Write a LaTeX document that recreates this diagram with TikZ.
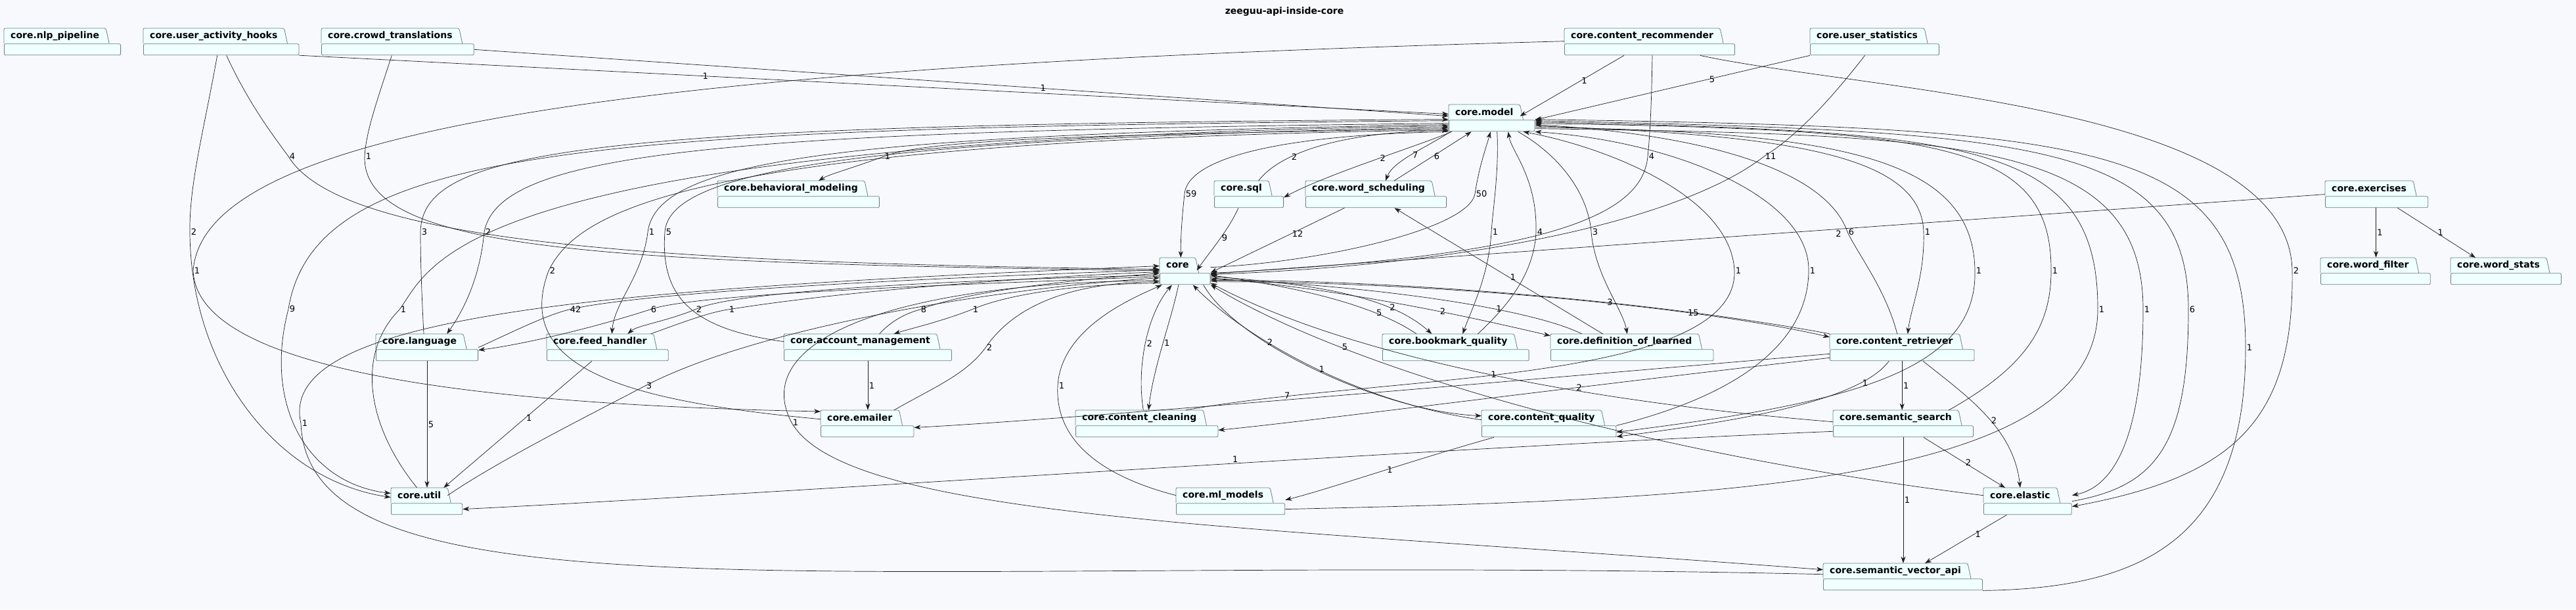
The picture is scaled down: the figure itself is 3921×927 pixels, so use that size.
\documentclass[tikz,border=0pt]{standalone}
\usepackage{fontspec}
\setmainfont{DejaVu Sans}
\usetikzlibrary{arrows.meta,calc,fit}

\definecolor{bgc}{RGB}{248,249,253}
\definecolor{pkgfill}{RGB}{240,255,255}
\definecolor{pkgborder}{RGB}{110,128,128}
\definecolor{linec}{RGB}{30,30,30}

\newcommand{\pkgfont}{\fontsize{14}{16}\selectfont\bfseries}
\newcommand{\lblfont}{\fontsize{13}{15}\selectfont}

% package box: tab with the name, empty body below
\newcommand{\pkgbox}[4]{%
  \node[pkgtab] (#1-t) at (#2,#3) {#4};
  \fill[pkgfill] (#1-t.north east) -- ([xshift=5pt]#1-t.south east) -- (#1-t.south east) -- cycle;
  \path let \p1=($(#1-t.east)-(#1-t.west)$) in
    node[pkgbody, minimum width={\x1+22pt}] (#1-b) at (#1-t.south west) {};
  \draw[pkgline] (#1-t.south west) -- (#1-t.north west) -- (#1-t.north east) -- ([xshift=5pt]#1-t.south east);
  \node[fit=(#1-t)(#1-b), inner sep=0pt] (#1) {};
}

\begin{document}
\begin{tikzpicture}[
        x=1pt, y=1pt,
        pkgtab/.style={rectangle, fill=pkgfill, draw=none, anchor=north west, inner xsep=10pt, inner ysep=0pt, minimum height=23pt, font=\pkgfont},
        pkgbody/.style={rectangle, draw=pkgborder, fill=pkgfill, line width=.8pt, rounded corners=2pt, anchor=north west, minimum height=17pt, inner sep=0pt},
        pkgline/.style={draw=pkgborder, line width=.8pt, rounded corners=2pt},
        dep/.style={draw=linec, line width=.7pt, -{Stealth[length=10pt,width=7pt,inset=3pt]}},
        lbl/.style={font=\lblfont, anchor=west, inner sep=1.5pt}
    ]

    \useasboundingbox (0,0) rectangle (3921,-927);
    \fill[bgc] (0,0) rectangle (3921,-927);

    \node[font=\pkgfont] (title) at (1955,-18) {zeeguu-api-inside-core};

    % packages
    \pkgbox{nlp}{6}{-43}{core.nlp\_pipeline}
    \pkgbox{uah}{218}{-43}{core.user\_activity\_hooks}
    \pkgbox{ct}{489}{-43}{core.crowd\_translations}
    \pkgbox{crec}{2381}{-43}{core.content\_recommender}
    \pkgbox{ustat}{2755}{-43}{core.user\_statistics}
    \pkgbox{model}{2205}{-159}{core.model}
    \pkgbox{bm}{1092}{-275}{core.behavioral\_modeling}
    \pkgbox{sql}{1848}{-275}{core.sql}
    \pkgbox{ws}{1987}{-275}{core.word\_scheduling}
    \pkgbox{exercises}{3539}{-275}{core.exercises}
    \pkgbox{core}{1765}{-392}{core}
    \pkgbox{wfilter}{3532}{-392}{core.word\_filter}
    \pkgbox{wstats}{3730}{-392}{core.word\_stats}
    \pkgbox{language}{572}{-508}{core.language}
    \pkgbox{fh}{832}{-508}{core.feed\_handler}
    \pkgbox{am}{1193}{-508}{core.account\_management}
    \pkgbox{bq}{2104}{-508}{core.bookmark\_quality}
    \pkgbox{dol}{2360}{-508}{core.definition\_of\_learned}
    \pkgbox{cr}{2785}{-508}{core.content\_retriever}
    \pkgbox{emailer}{1249}{-624}{core.emailer}
    \pkgbox{cc}{1637}{-624}{core.content\_cleaning}
    \pkgbox{cq}{2255}{-624}{core.content\_quality}
    \pkgbox{ss}{2790}{-624}{core.semantic\_search}
    \pkgbox{util}{595}{-742}{core.util}
    \pkgbox{ml}{1790}{-742}{core.ml\_models}
    \pkgbox{elastic}{3019}{-742}{core.elastic}
    \pkgbox{sva}{2775}{-857}{core.semantic\_vector\_api}

    % top row
    \draw[dep] (uah-b.south east) -- ([yshift=6]model.west) node[lbl,pos=.35]{1};
    \draw[dep] (ct-b.east) -- ([yshift=3]model.west) node[lbl,pos=.58]{1};
    \draw[dep] ([xshift=-39]crec.south) -- ([yshift=-6]model-t.east) node[lbl,pos=.42]{1};
    \draw[dep] (ustat.south west) -- (model-b.north east) node[lbl,pos=.37]{5};
    \draw[dep] ([xshift=4]crec.south) .. controls (2514,-150) and (2512,-200) .. (2508,-238) node[lbl]{4} .. controls (2500,-330) and (2350,-390) .. ([yshift=-3]core.east);
    \draw[dep] ([xshift=-15]ustat.south) .. controls (2780,-160) and (2730,-210) .. (2685,-238) node[lbl]{11} .. controls (2580,-320) and (2300,-400) .. ([yshift=-5]core.east);
    \draw[dep] ([xshift=8]uah.south) .. controls (380,-160) and (415,-205) .. (439,-238) node[lbl]{4} .. controls (520,-370) and (1000,-400) .. ([yshift=3]core.west);
    \draw[dep] ([xshift=-9]ct.south) .. controls (575,-150) and (557,-200) .. (555,-238) node[lbl]{1} .. controls (552,-380) and (900,-400) .. ([yshift=1]core.west);
    \draw[dep] ([yshift=-8]crec-t.west) .. controls (1000,-100) and (310,-190) .. (294,-412) node[lbl]{1} .. controls (300,-560) and (700,-615) .. ([yshift=-2]emailer-t.north west);
    \draw[dep] ([xshift=-6]uah.south) .. controls (310,-200) and (288,-280) .. (289,-353) node[lbl]{2} .. controls (290,-560) and (420,-730) .. ([yshift=6]util.west);

    % left side
    \draw[dep] ([yshift=-4]model.west) .. controls (900,-195) and (480,-220) .. (439,-470) node[lbl]{9} .. controls (400,-620) and (470,-735) .. ([yshift=12]util.west);
    \draw[dep] ([xshift=-5]language.north) .. controls (642,-450) and (640,-400) .. (640,-353) node[lbl]{3} .. controls (642,-225) and (900,-190) .. ([yshift=-2]model.west);
    \draw[dep] ([yshift=-8]model.west) .. controls (1100,-200) and (760,-230) .. (737,-353) node[lbl]{2} .. controls (730,-430) and (700,-480) .. ([xshift=-25]language-t.north east);
    \draw[dep] ([yshift=-10]model.west) .. controls (1300,-205) and (1000,-240) .. (986,-353) node[lbl]{1} .. controls (978,-420) and (935,-460) .. ([xshift=18]fh-t.north);
    \draw[dep] ([yshift=-6]core.west) .. controls (1500,-425) and (1120,-440) .. (1058,-471) node[lbl]{2} .. controls (1010,-490) and (970,-495) .. ([xshift=42]fh-t.north);
    \draw[dep] ([xshift=-27]fh.north east) .. controls (1040,-490) and (1080,-475) .. (1108,-471) node[lbl]{1} .. controls (1300,-440) and (1600,-420) .. ([yshift=-1]core.west);
    \draw[dep] (language.east) .. controls (780,-505) and (830,-480) .. (866,-471) node[lbl]{42} .. controls (1000,-440) and (1500,-420) .. ([yshift=2]core.west);
    \draw[dep] ([yshift=-8]core.west) .. controls (1500,-432) and (1060,-445) .. (989,-471) node[lbl]{6} .. controls (900,-500) and (790,-525) .. ([yshift=-4]language.east);
    \draw[dep] ([xshift=-15]util.north) .. controls (560,-650) and (540,-540) .. (608,-471) node[lbl]{1} .. controls (660,-400) and (690,-215) .. ([yshift=-12]model.west);
    \draw[dep] (util-t.east) .. controls (760,-700) and (900,-630) .. (982,-587) node[lbl]{3} .. controls (1150,-500) and (1500,-440) .. ([yshift=-10]core.west);
    \draw[dep] ([yshift=-5]sva-t.west) .. controls (1300,-840) and (470,-960) .. (458,-644) node[lbl]{1} .. controls (420,-480) and (900,-440) .. ([yshift=8]core.west);
    \draw[dep] ([yshift=-14]core.west) .. controls (1350,-430) and (1140,-520) .. (1205,-643) node[lbl]{1} .. controls (1290,-790) and (1900,-800) .. ([yshift=2]sva-t.west);
    \draw[dep] ([xshift=-24]fh.south) -- ([xshift=-6]util-t.north east) node[lbl,pos=.45]{1};
    \draw[dep] (language.south) -- (language.south |- util.north) node[lbl,pos=.5]{5};

    % account management, emailer
    \draw[dep] ([xshift=29]am-t.north) .. controls (1355,-490) and (1375,-478) .. (1400,-471) node[lbl]{8} .. controls (1480,-440) and (1650,-425) .. ([yshift=-3]core.west);
    \draw[dep] ([yshift=-18]core.west) .. controls (1650,-432) and (1540,-445) .. (1479,-471) node[lbl]{1} .. controls (1430,-490) and (1385,-500) .. ([xshift=51]am-t.north);
    \draw[dep] (am.south) -- (am.south |- emailer.north) node[lbl,pos=.5]{1};
    \draw[dep] ([xshift=52]emailer-t.north) .. controls (1420,-590) and (1470,-570) .. (1500,-529) node[lbl]{2} .. controls (1540,-470) and (1620,-430) .. ([yshift=-16]core.west);
    \draw[dep] ([yshift=-2]emailer-t.west) .. controls (950,-610) and (780,-560) .. (835,-412) node[lbl]{2} .. controls (880,-320) and (1050,-215) .. ([yshift=-18]model.west);
    \draw[dep] (am-t.west) .. controls (1050,-500) and (1005,-450) .. (1012,-353) node[lbl]{5} .. controls (1018,-260) and (1300,-212) .. ([yshift=-14]model.west);

    % model and its neighbours
    \draw[dep] ([yshift=-16]model.west) .. controls (1700,-205) and (1420,-210) .. (1345,-238) node[lbl]{1} .. controls (1300,-255) and (1262,-265) .. ([xshift=42]bm-t.north);
    \draw[dep] ([xshift=5]model.south west) .. controls (2150,-225) and (2020,-265) .. ([yshift=-2]sql-b.north east) node[lbl,pos=.45]{2};
    \draw[dep] ([xshift=26]sql-t.north) .. controls (1950,-230) and (2050,-200) .. ([yshift=-19]model.west) node[lbl,pos=.3]{2};
    \draw[dep] ([xshift=3]model.south west) .. controls (2170,-225) and (2120,-245) .. ([xshift=26]ws-t.north) node[lbl,pos=.5]{7};
    \draw[dep] ([xshift=39]ws-t.north) -- ([xshift=-31]model.south) node[lbl,pos=.5]{6};
    \draw[dep] (model.south west) .. controls (1950,-205) and (1808,-240) .. (1803,-295) node[lbl]{59} .. controls (1798,-340) and (1797,-370) .. ([xshift=5]core-t.north);
    \draw[dep] ([yshift=6]core.east) .. controls (2000,-400) and (2235,-350) .. (2245,-295) node[lbl]{50} .. controls (2252,-250) and (2262,-225) .. ([xshift=-2]model.south);
    \draw[dep] ([xshift=-16]sql.south) .. controls (1870,-350) and (1840,-385) .. ([xshift=2,yshift=4]core-t.south east) node[lbl,pos=.45]{9};
    \draw[dep] ([xshift=-48]ws.south) -- ([yshift=-2]core.east) node[lbl,pos=.4]{12};
    \draw[dep] ([xshift=8]model.south) .. controls (2282,-260) and (2272,-320) .. (2270,-353) node[lbl]{1} .. controls (2266,-420) and (2240,-470) .. ([xshift=22]bq-t.north);
    \draw[dep] ([xshift=45]bq-t.north) .. controls (2290,-470) and (2335,-420) .. (2338,-353) node[lbl]{4} .. controls (2340,-270) and (2300,-230) .. ([xshift=25]model.south);
    \draw[dep] ([xshift=40]model.south) .. controls (2380,-240) and (2418,-300) .. (2422,-353) node[lbl]{3} .. controls (2428,-420) and (2470,-470) .. ([xshift=4]dol-t.north);
    \draw[dep] ([xshift=-33]dol-t.north) -- ([xshift=28]ws.south) node[lbl,pos=.45]{1};
    \draw[dep] ([xshift=-27]cc-t.north east) .. controls (2100,-570) and (2645,-585) .. (2640,-412) node[lbl]{1} .. controls (2635,-300) and (2450,-225) .. ([xshift=-18]model.south east);
    \draw[dep] (cq-b.north east) .. controls (2650,-600) and (2752,-520) .. (2753,-412) node[lbl]{1} .. controls (2755,-300) and (2550,-215) .. (model.south east);

    % right side of core.model
    \draw[dep] ([xshift=4]cr-t.north) .. controls (2870,-440) and (2830,-390) .. (2812,-353) node[lbl]{6} .. controls (2780,-260) and (2600,-205) .. ([yshift=-10]model.east);
    \draw[dep] ([yshift=-12]model.east) .. controls (2700,-205) and (2925,-230) .. (2928,-353) node[lbl]{1} .. controls (2930,-420) and (2908,-470) .. ([xshift=20]cr-t.north);
    \draw[dep] ([yshift=-14]model.east) .. controls (2800,-200) and (3004,-240) .. (3006,-412) node[lbl]{1} .. controls (3010,-570) and (2800,-615) .. ([yshift=-10]cq-b.north east);
    \draw[dep] ([xshift=-15]ss-t.north east) .. controls (3080,-560) and (3122,-500) .. (3122,-412) node[lbl]{1} .. controls (3123,-215) and (2950,-198) .. ([yshift=-8]model.east);
    \draw[dep] ([yshift=-12]ml.east) .. controls (2600,-760) and (3192,-740) .. (3193,-471) node[lbl]{1} .. controls (3194,-215) and (3000,-200) .. ([yshift=-6]model.east);
    \draw[dep] ([yshift=-16]model.east) .. controls (3000,-205) and (3262,-215) .. (3262,-471) node[lbl]{1} .. controls (3262,-660) and (3220,-740) .. ([yshift=9]elastic.east);
    \draw[dep] (elastic.east) .. controls (3280,-740) and (3331,-680) .. (3331,-471) node[lbl]{6} .. controls (3331,-215) and (3100,-200) .. ([yshift=-4]model.east);
    \draw[dep] (sva.south east) .. controls (3250,-895) and (3418,-830) .. (3418,-529) node[lbl]{1} .. controls (3418,-215) and (3200,-195) .. ([yshift=-2]model.east);
    \draw[dep] ([xshift=77]crec.south) .. controls (2850,-140) and (3485,-160) .. (3489,-412) node[lbl]{2} .. controls (3492,-640) and (3400,-725) .. ([yshift=-8]elastic.east);

    % exercises
    \draw[dep] (exercises.west) -- ([yshift=-4]core.east) node[lbl,pos=.44,anchor=north west]{2};
    \draw[dep] ([xshift=-1]exercises.south) -- ([xshift=-1]exercises.south |- wfilter.north) node[lbl,pos=.5]{1};
    \draw[dep] ([xshift=32]exercises.south) -- ([xshift=-35]wstats-t.north) node[lbl,pos=.5]{1};

    % right side of core
    \draw[dep] ([xshift=52]bq.north west) .. controls (2100,-470) and (2000,-440) .. ([yshift=-6]core.east) node[lbl,pos=.3]{5};
    \draw[dep] ([yshift=-8]core.east) .. controls (2000,-432) and (2115,-450) .. ([xshift=-25]bq-t.north) node[lbl,pos=.72]{2};
    \draw[dep] ([yshift=-10]core.east) .. controls (2050,-440) and (2250,-485) .. ([yshift=-3]dol.north west) node[lbl,pos=.6]{2};
    \draw[dep] ([xshift=48]dol.north west) .. controls (2330,-470) and (2100,-435) .. ([yshift=-12]core.east) node[lbl,pos=.35]{1};
    \draw[dep] (cr.north west) .. controls (2500,-455) and (2100,-425) .. ([yshift=-14]core.east) node[lbl,pos=.36]{3};
    \draw[dep] ([yshift=-16]core.east) .. controls (2200,-428) and (2600,-470) .. ([yshift=-5]cr.north west) node[lbl,pos=.7]{15};
    \draw[dep] ([yshift=-6]ss-t.west) .. controls (2400,-610) and (2050,-540) .. ([yshift=-18]core.east) node[lbl,pos=.48]{1};
    \draw[dep] (elastic-t.west) .. controls (2500,-690) and (2050,-560) .. (core.south east) node[lbl,pos=.75]{5};

    % lower right
    \draw[dep] (ss-b.west) .. controls (2200,-680) and (1200,-750) .. ([yshift=-12]util.east) node[lbl,pos=.43,anchor=south west]{1};
    \draw[dep] ([xshift=19]cq.south west) .. controls (2150,-700) and (2020,-745) .. ([yshift=2]ml.east) node[lbl,pos=.45]{1};
    \draw[dep] ([xshift=-20]cr.south) .. controls (2830,-610) and (2650,-640) .. ([yshift=-17]cq-b.north east) node[lbl,pos=.2]{1};
    \draw[dep] (cr.south) -- (cr.south |- ss.north) node[lbl,pos=.5]{1};
    \draw[dep] ([xshift=32]cr.south) .. controls (2990,-600) and (3065,-650) .. (elastic-t.north) node[lbl,pos=.55]{2};
    \draw[dep] ([xshift=31]ss.south) -- ([xshift=-23]elastic-t.north) node[lbl,pos=.5]{2};
    \draw[dep] (ss.south) -- (ss.south |- sva.north) node[lbl,pos=.5]{1};
    \draw[dep] ([xshift=-32]elastic.south) -- ([xshift=45]sva-t.north) node[lbl,pos=.4]{1};
    \draw[dep] ([yshift=2]cr-b.west) .. controls (2300,-580) and (1600,-640) .. ([yshift=-3]emailer-b.north east) node[lbl,pos=.52,anchor=south west]{7};
    \draw[dep] ([yshift=-4]cr-b.west) .. controls (2300,-600) and (2000,-640) .. ([yshift=-7]cc-b.north east) node[lbl,pos=.3]{2};

    % below core
    \draw[dep] ([xshift=6]cc-t.north) .. controls (1730,-560) and (1745,-480) .. ([xshift=-20]core.south) node[lbl,pos=.5]{2};
    \draw[dep] ([xshift=-10]core.south) .. controls (1785,-480) and (1755,-560) .. ([xshift=14]cc-t.north) node[lbl,pos=.5]{1};
    \draw[dep] (ml-t.west) .. controls (1660,-720) and (1606,-660) .. (1610,-587) node[lbl]{1} .. controls (1615,-500) and (1720,-455) .. ([xshift=-35]core.south);
    \draw[dep] ([xshift=28]core.south) .. controls (1880,-520) and (2100,-625) .. ([yshift=3]cq-t.west) node[lbl,pos=.33]{2};
    \draw[dep] ([yshift=-3]cq-t.west) .. controls (2050,-610) and (1880,-500) .. ([xshift=12]core.south) node[lbl,pos=.45]{1};

\end{tikzpicture}
\end{document}
